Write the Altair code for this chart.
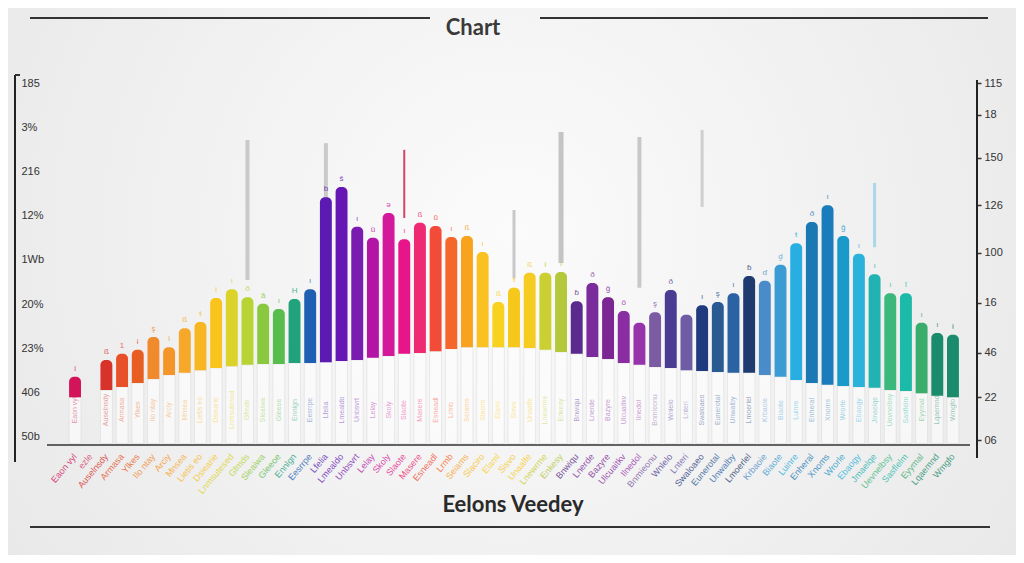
import json
import altair as alt
import pandas as pd

# ---------------- data ----------------
categories = [
    "Eaon vyl", "ezle", "Auselnsdy", "Armasa", "Ylkes", "Ilo ntay", "Arciy", "Mnsea",
    "Lietis eo", "Dsiearie", "Lnmsutesed", "Gfmds", "Sleaiwa", "Gleeoe", "Ennlgn",
    "Eesrrpe", "Lfelia", "Lmealdo", "Unbsvrt", "Lelay", "Skoly", "Slaote", "Masere",
    "Esneadl", "Lrmb", "Seiams", "Slaciro", "Elaml", "Sisvo", "Unaalfe", "Lnewrme",
    "Enkesy", "Bnwiqu", "Lnerde", "Bazyre", "Ulcuaitkv", "Ilnedol", "Bnmieonu",
    "Wnlelo", "Lnteri", "Swaloaeo", "Eunerotal", "Unwalby", "Lmoerlel", "Krbaoie",
    "Biaote", "Luinre", "Enheral", "Xnoms", "Wrorle", "Ebaogy", "Jmaelqe",
    "Uevnelbsy", "Sasflelm", "Eyymal", "Lqaemnd", "Wmgfo",
]

bar_top = [
    13.6, None, 17.4, 18.8, 19.7, 22.6, 20.3, 24.6, 26.0, 31.4, 33.4, 31.6, 30.1, 28.9,
    31.2, 33.4, 54.2, 56.5, 47.5, 45.0, 50.6, 44.7, 48.4, 47.7, 45.2, 45.4, 41.8, 30.5,
    33.7, 37.1, 37.1, 37.3, 30.7, 34.8, 31.6, 28.5, 25.8, 28.2, 33.2, 27.6, 29.8, 30.5,
    32.5, 36.4, 35.3, 38.9, 43.8, 48.6, 52.4, 45.4, 41.4, 36.8, 32.5, 32.5, 25.8, 23.5,
    23.1,
]
bar_base = [
    9.0, None, 10.6, 11.3, 12.2, 13.1, 14.0, 14.5, 15.1, 15.6, 16.0, 16.3, 16.5, 16.5,
    16.7, 16.7, 16.9, 17.2, 17.4, 17.9, 18.3, 18.8, 19.0, 19.4, 19.9, 20.3, 20.3, 20.3,
    20.3, 20.1, 19.7, 19.2, 18.8, 18.1, 17.6, 16.7, 16.3, 15.8, 15.6, 15.1, 14.9, 14.7,
    14.5, 14.5, 14.0, 13.6, 12.9, 12.2, 11.8, 11.5, 11.3, 11.1, 10.6, 10.4, 9.9, 9.3,
    9.0,
]
bar_notes = [
    "i", "", "ß", "1", "ɨ", "ş", "i", "ß", "ŧ", "i", "ı", "ð", "ă", "ı", "H", "ı", "b",
    "ŝ", "ı", "ü", "ǝ", "ı", "ß", "ũ", "ı", "ß", "ı", "ß", "ŧ", "ß", "ł", "ı", "ɓ", "ð",
    "ĝ", "ö", "", "ş", "ð", "", "ı", "ş", "ı", "ɓ", "ɗ", "ḓ", "ŧ", "ð", "ı", "ğ", "ı",
    "ı", "ı", "ĭ", "ı", "ı", "ł",
]

left_tick_values = [0, 10, 20, 30, 40, 50, 60, 70, 80]
left_tick_labels = ["50b", "406", "23%", "20%", "1Wb", "12%", "216", "3%", "185"]
right_tick_values = [-0.7, 9.0, 19.0, 30.3, 41.6, 52.4, 63.1, 72.8, 80.0]
right_tick_labels = ["06", "22", "46", "16", "100", "126", "150", "18", "115"]

rule_slots = [11, 16, 21, 28, 31, 36, 40, 51]
rule_top = [67.1, 66.4, 64.9, 51.3, 68.9, 67.8, 69.4, 57.4]
rule_bottom = [35.5, 42.7, 49.5, 35.9, 39.3, 33.7, 52.0, 42.9]

title_text = "Chart"
xaxis_title_text = "Eelons Veedey"

# ---------------- styles ----------------
bar_colors = [
    "#d4145a", "#d8446a", "#d8332a", "#e8502a", "#e85d22", "#f08a2c", "#f4952a", "#f6a82a",
    "#f8b623", "#f9c51c", "#dcd32a", "#b8d434", "#8ac840", "#58bd4c", "#22a27c", "#1e5fb2",
    "#5b1bb2", "#6716b6", "#7a1cb0", "#b414a6", "#d4189c", "#e8148a", "#ee2a72", "#f24c38",
    "#f4662a", "#f8a21e", "#f9c222", "#f8d21e", "#f6c81c", "#f6cc22", "#cbd032", "#b4c83c",
    "#5a2a8c", "#7b2c9c", "#7b2692", "#8a2ca2", "#9632aa", "#7b5ca2", "#4a3c92", "#6e5ca4",
    "#1f3a7e", "#2a5a92", "#2a62a4", "#1e3a6e", "#4a8cca", "#3a9cd2", "#28aee0", "#1a78b2",
    "#1a7cba", "#1a9aca", "#2ab2da", "#22b2b2", "#3cb87c", "#1cbaa8", "#3aac6c", "#1a8c6c",
    "#1a8c6c",
]
rule_colors = ["#c9c9c9", "#cacaca", "#d2456a", "#c8c8c8", "#c4c4c4", "#c8c8c8", "#cfcfcf", "#a8d8ea"]
rule_widths = [4, 4, 2, 3, 5, 4, 3, 3]

W, H = 1008, 547

df = pd.DataFrame({
    "cat": categories,
    "top": bar_top,
    "base": bar_base,
    "note": bar_notes,
})
rules_df = pd.DataFrame({
    "cat": [categories[i] for i in rule_slots],
    "top": rule_top,
    "bottom": rule_bottom,
    "color": rule_colors,
    "w": rule_widths,
})
one = pd.DataFrame({"k": [0]})

xscale = alt.Scale(domain=categories, range=[59.2, 952.8], paddingInner=0.24, paddingOuter=0.12)
yscale = alt.Scale(domain=[-26.67, 96.95], nice=False, zero=False)
cscale = alt.Scale(domain=categories, range=bar_colors)
X = alt.X("cat:N", scale=xscale, axis=None)

left_expr = json.dumps(left_tick_labels) + "[round(datum.value/10)]"
right_expr = json.dumps(right_tick_labels) + "[indexof(" + json.dumps(right_tick_values) + ", datum.value)]"

left_axis = alt.Axis(
    orient="left", offset=-7, values=left_tick_values, labelExpr=left_expr,
    domain=False, ticks=False, grid=False, title=None, labelAlign="left",
    labelPadding=-6, labelFontSize=11, labelColor="#333333", labelFont="Liberation Sans",
    labelBaseline="middle", zindex=2,
)
right_axis = alt.Axis(
    orient="right", offset=-39, values=right_tick_values, labelExpr=right_expr,
    domain=False, ticks=True, tickSize=4, tickWidth=1.5, tickColor="#333333",
    grid=False, title=None, labelAlign="left", labelPadding=3, labelFontSize=11,
    labelColor="#333333", labelFont="Liberation Sans", labelBaseline="middle", zindex=2,
)

# background
bg = alt.Chart(one).mark_rect(
    fill=alt.Gradient(
        gradient="radial",
        stops=[alt.GradientStop(color="#fbfbfb", offset=0),
               alt.GradientStop(color="#e4e4e4", offset=1)],
        x1=0.5, y1=0.45, x2=0.5, y2=0.45, r1=0, r2=0.75,
    )
).encode(x=alt.value(0), x2=alt.value(W), y=alt.value(0), y2=alt.value(H))

rules = alt.Chart(rules_df).mark_rule(strokeCap="butt").encode(
    x=X,
    y=alt.Y("top:Q", scale=yscale, axis=None),
    y2="bottom:Q",
    color=alt.Color("color:N", scale=None),
    strokeWidth=alt.StrokeWidth("w:Q", scale=None),
)

panels = alt.Chart(df).mark_bar(fill="#ffffff", opacity=0.6, stroke="#d9d9d9", strokeWidth=0.8).encode(
    x=X,
    y=alt.Y("base:Q", scale=yscale, axis=None),
    y2=alt.datum(-1.5),
)

panel_text = alt.Chart(df).transform_filter("isValid(datum.base)").mark_text(
    angle=270, fontSize=7, opacity=0.45, font="Liberation Sans", align="center", baseline="middle"
).encode(
    x=X,
    y=alt.value(402),
    text="cat:N",
    color=alt.Color("cat:N", scale=cscale, legend=None),
)

bars = alt.Chart(df).mark_bar(cornerRadiusTopLeft=5, cornerRadiusTopRight=5).encode(
    x=X,
    y=alt.Y("top:Q", scale=yscale, axis=left_axis),
    y2="base:Q",
    color=alt.Color("cat:N", scale=cscale, legend=None),
)

notes = alt.Chart(df).mark_text(fontSize=8, dy=-8, opacity=0.8, font="Liberation Sans").encode(
    x=X,
    y=alt.Y("top:Q", scale=yscale, axis=None),
    text="note:N",
    color=alt.Color("cat:N", scale=cscale, legend=None),
)

xlabels = alt.Chart(df).mark_text(
    angle=310, align="right", baseline="middle", fontSize=9, opacity=0.8, font="Liberation Sans"
).encode(
    x=X,
    y=alt.value(447),
    text="cat:N",
    color=alt.Color("cat:N", scale=cscale, legend=None),
)

def hline(x1, x2, y, w=2, color="#333333"):
    return alt.Chart(one).mark_rule(strokeWidth=w, color=color).encode(
        x=alt.value(x1), x2=alt.value(x2), y=alt.value(y))

def vline(x, y1, y2, w=2, color="#222222"):
    return alt.Chart(one).mark_rule(strokeWidth=w, color=color).encode(
        x=alt.value(x), y=alt.value(y1), y2=alt.value(y2))

decor = [
    hline(22, 422, 10),
    hline(532, 980, 10),
    hline(22, 982, 519),
    hline(39, 962, 437, w=1.5),
    vline(7, 67, 454),
    hline(7, 12, 67),
    vline(969, 72, 450),
]

title = alt.Chart(pd.DataFrame({"t": [title_text]})).mark_text(
    font="Lato", fontWeight="bold", fontSize=22, color="#3a3a3a", align="center", baseline="middle"
).encode(text="t:N", x=alt.value(465), y=alt.value(20))

xtitle = alt.Chart(pd.DataFrame({"t": [xaxis_title_text]})).mark_text(
    font="Lato", fontWeight="bold", fontSize=22, color="#2a2a2a", align="center", baseline="middle"
).encode(text="t:N", x=alt.value(505), y=alt.value(497))

right = alt.Chart(pd.DataFrame({"v": right_tick_values})).mark_point(opacity=0).encode(
    y=alt.Y("v:Q", scale=yscale, axis=right_axis),
)

chart = alt.layer(
    bg, rules, panels, panel_text, bars, notes, xlabels, *decor, title, xtitle, right
).resolve_axis(y="independent").properties(
    width=W, height=H, autosize=alt.AutoSizeParams(type="none"), padding=0,
).configure_view(stroke=None).configure(background="#e8e8e8")

chart.save("out.html", embed_options={"renderer": "svg", "actions": False})
